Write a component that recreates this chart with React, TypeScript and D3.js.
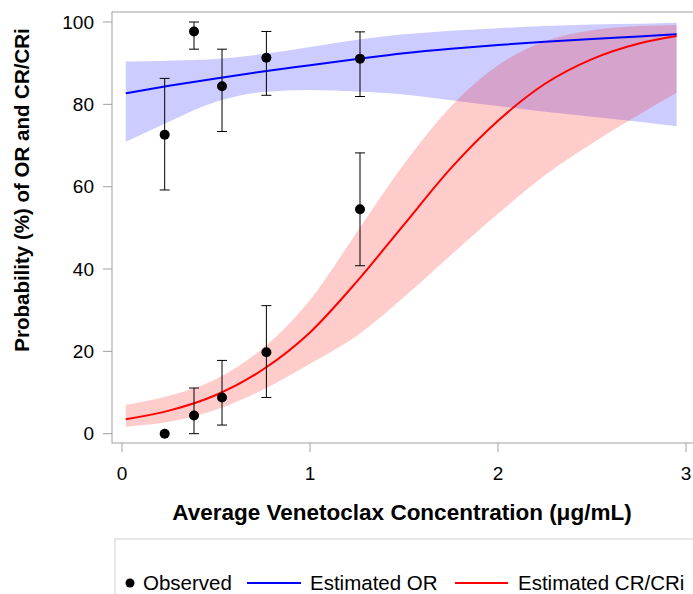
import React from "react";
import * as d3 from "d3";

// Observed data
const obsConc = [0.227, 0.383, 0.532, 0.768, 1.266];
const obsOR = [72.6, 97.7, 84.4, 91.3, 91.1];
const obsORLow = [59.2, 93.4, 73.4, 82.2, 81.9];
const obsORHigh = [86.3, 100, 93.4, 97.7, 97.6];
const obsCR = [0, 4.4, 8.8, 19.8, 54.5];
const obsCRLow = [0, 0, 2.1, 8.8, 40.8];
const obsCRHigh = [0, 11.1, 17.8, 31.1, 68.2];

// Model estimates
const estConc = [0.02, 0.25, 0.5, 0.75, 1.0, 1.25, 1.5, 1.75, 2.0, 2.25, 2.5, 2.75, 2.95];
const estOR = [82.7, 84.5, 86.3, 88.0, 89.5, 91.0, 92.4, 93.5, 94.4, 95.2, 95.9, 96.5, 97.0];
const estORLow = [70.9, 75.8, 80.6, 83.0, 83.5, 83.1, 82.4, 81.0, 79.6, 78.2, 77.0, 75.8, 74.7];
const estORHigh = [90.4, 90.6, 91.0, 92.2, 93.9, 95.7, 97.0, 97.9, 98.5, 99.0, 99.4, 99.6, 99.8];
const estCR = [3.5, 5.6, 9.4, 15.6, 24.6, 37.0, 50.8, 64.5, 76.0, 85.0, 91.0, 94.8, 96.6];
const estCRLow = [1.7, 2.9, 5.8, 10.7, 17.0, 23.8, 33.2, 43.4, 53.4, 62.8, 70.5, 77.5, 82.8];
const estCRHigh = [7.0, 9.2, 13.3, 20.8, 32.5, 49.0, 65.5, 79.5, 89.5, 95.3, 98.0, 99.0, 99.3];

const xTicks = [0, 1, 2, 3];
const yTicks = [0, 20, 40, 60, 80, 100];

const FONT = "'Liberation Sans', Arial, sans-serif";

export default function App() {
  const x = d3.scaleLinear().domain([0, 3]).range([122, 686]);
  const y = d3.scaleLinear().domain([0, 100]).range([433.7, 22]);

  const idx = estConc.map((_, i) => i);
  const area = (lo: number[], hi: number[]) =>
    d3
      .area<number>()
      .x((i) => x(estConc[i]))
      .y0((i) => y(lo[i]))
      .y1((i) => y(hi[i]))
      .curve(d3.curveMonotoneX)(idx) || "";
  const line = (v: number[]) =>
    d3
      .line<number>()
      .x((i) => x(estConc[i]))
      .y((i) => y(v[i]))
      .curve(d3.curveMonotoneX)(idx) || "";

  const left = 112;
  const top = 12;
  const bottom = 443;
  const axisColor = "#a0a0a0";

  const errBars = (lo: number[], hi: number[], key: string) =>
    obsConc.map((c, i) => {
      if (hi[i] - lo[i] <= 0) return null;
      const cx = x(c);
      return (
        <g key={key + i} stroke="#000" strokeWidth={1}>
          <line x1={cx} x2={cx} y1={y(lo[i])} y2={y(hi[i])} />
          <line x1={cx - 5} x2={cx + 5} y1={y(lo[i])} y2={y(lo[i])} />
          <line x1={cx - 5} x2={cx + 5} y1={y(hi[i])} y2={y(hi[i])} />
        </g>
      );
    });

  return (
    <svg
      width={693}
      height={594}
      style={{ position: "absolute", left: 0, top: 0, background: "#fff" }}
      fontFamily={FONT}
    >
      <rect x={0} y={0} width={693} height={594} fill="#fff" />
      {/* bands */}
      <path d={area(estORLow, estORHigh)} fill="rgb(0,0,255)" fillOpacity={0.2} />
      <path d={area(estCRLow, estCRHigh)} fill="rgb(255,0,0)" fillOpacity={0.2} />
      {/* lines */}
      <path d={line(estOR)} fill="none" stroke="#0000ff" strokeWidth={2} />
      <path d={line(estCR)} fill="none" stroke="#ff0000" strokeWidth={2} />
      {/* error bars */}
      {errBars(obsORLow, obsORHigh, "or")}
      {errBars(obsCRLow, obsCRHigh, "cr")}
      {obsConc.map((c, i) => (
        <circle key={"po" + i} cx={x(c)} cy={y(obsOR[i])} r={5} fill="#000" />
      ))}
      {obsConc.map((c, i) => (
        <circle key={"pc" + i} cx={x(c)} cy={y(obsCR[i])} r={5} fill="#000" />
      ))}
      {/* frame */}
      <rect
        x={left}
        y={top}
        width={700 - left}
        height={bottom - top}
        fill="none"
        stroke={axisColor}
        strokeWidth={1}
      />
      {/* y axis ticks */}
      {yTicks.map((t) => (
        <g key={"yt" + t}>
          <line x1={left - 9} x2={left} y1={y(t)} y2={y(t)} stroke={axisColor} />
          <text
            x={left - 18}
            y={y(t)}
            dy="0.35em"
            textAnchor="end"
            fontSize={19}
            fill="#000"
          >
            {t}
          </text>
        </g>
      ))}
      {xTicks.map((t) => (
        <g key={"xt" + t}>
          <line x1={x(t)} x2={x(t)} y1={bottom} y2={bottom + 9} stroke={axisColor} />
          <text x={x(t)} y={480} textAnchor="middle" fontSize={19} fill="#000">
            {t}
          </text>
        </g>
      ))}
      {/* axis titles */}
      <text
        x={402}
        y={520}
        textAnchor="middle"
        fontSize={22.5}
        fontWeight="bold"
        fill="#000"
      >
        Average Venetoclax Concentration (μg/mL)
      </text>
      <text
        transform="translate(29,190) rotate(-90)"
        textAnchor="middle"
        fontSize={20.5}
        fontWeight="bold"
        fill="#000"
      >
        Probability (%) of OR and CR/CRi
      </text>
      {/* legend */}
      <rect x={115} y={539} width={600} height={100} fill="none" stroke="#cfcfcf" />
      <circle cx={130} cy={583} r={4.5} fill="#000" />
      <text x={143} y={590} fontSize={20.5} fill="#000">
        Observed
      </text>
      <line x1={247} x2={301} y1={583} y2={583} stroke="#0000ff" strokeWidth={2} />
      <text x={310} y={590} fontSize={20.5} fill="#000">
        Estimated OR
      </text>
      <line x1={455} x2={508} y1={583} y2={583} stroke="#ff0000" strokeWidth={2} />
      <text x={518} y={590} fontSize={20.5} fill="#000">
        Estimated CR/CRi
      </text>
    </svg>
  );
}
